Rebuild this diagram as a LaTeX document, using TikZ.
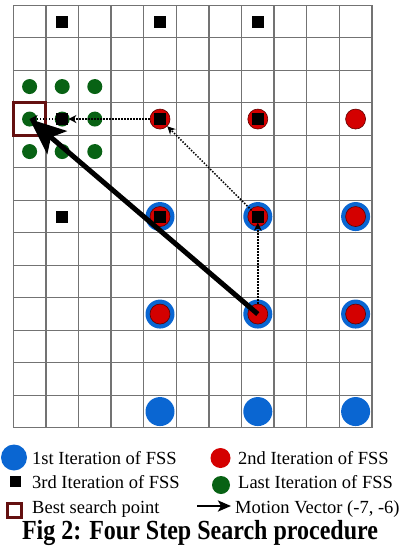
\documentclass[tikz,border=0pt]{standalone}
\usepackage{fontspec}
\setmainfont{Liberation Serif}
\usetikzlibrary{arrows.meta}
\definecolor{fssblue}{RGB}{10,102,210}
\definecolor{fssred}{RGB}{212,0,0}
\definecolor{fssgreen}{RGB}{8,98,20}
\definecolor{fssmaroon}{RGB}{100,16,16}
\definecolor{gridgray}{RGB}{115,115,115}
\tikzset{
  gridline/.style={draw=gridgray, line width=1.3pt},
  bluedot/.style={circle, fill=fssblue, minimum size=29pt, inner sep=0pt},
  reddot/.style={circle, fill=fssred, draw=fssred!45!black, line width=0.6pt, minimum size=20pt, inner sep=0pt},
  blacksq/.style={rectangle, fill=black, minimum size=12pt, inner sep=0pt},
  greendot/.style={circle, fill=fssgreen, minimum size=15pt, inner sep=0pt},
  bestbox/.style={rectangle, draw=fssmaroon, line width=3pt, minimum width=32.6pt, minimum height=32.5pt, inner sep=0pt},
  dotarrow/.style={line width=1.5pt, dash pattern=on 1.5pt off 1.5pt, -{Stealth[length=8pt,width=8pt]}},
  mvarrow/.style={line width=5pt, -{Stealth[length=36pt,width=30pt,inset=8pt]}},
  legarrow/.style={line width=2.8pt, -{Stealth[length=13pt,width=11pt,inset=3pt]}},
  legtext/.style={anchor=base west, inner sep=0pt, font=\fontsize{18.5}{22}\selectfont},
  titletext/.style={anchor=base, inner sep=0pt, font=\bfseries\fontsize{24}{28}\selectfont}
}
\begin{document}
\begin{tikzpicture}[x=1pt,y=-1pt]
\useasboundingbox[fill=white] (0,0) rectangle (406,546);
\begin{scope}[shift={(13.3pt,-5.3pt)}, x=32.6pt, y=-32.5pt]
  % grid
  \foreach \i in {0,...,11} \draw[gridline] (\i,0) -- (\i,13);
  \foreach \j in {0,...,13} \draw[gridline] (0,\j) -- (11,\j);
  % 1st iteration
  \foreach \c in {4,7,10} \foreach \r in {6,9,12}
    \node[bluedot] (b-\c-\r) at (\c+0.5,\r+0.5) {};
  % 2nd iteration
  \foreach \c in {4,7,10} \foreach \r in {3,6,9}
    \node[reddot] (r-\c-\r) at (\c+0.5,\r+0.5) {};
  % 3rd iteration
  \foreach \c in {1,4,7} \foreach \r in {0,3,6}
    \node[blacksq] (s-\c-\r) at (\c+0.5,\r+0.5) {};
  % last iteration
  \foreach \c in {0,1,2} \foreach \r in {2,3,4}
    \node[greendot] (g-\c-\r) at (\c+0.5,\r+0.5) {};
  \node[blacksq] (s-1-3b) at (1.5,3.5) {};
  % best search point
  \node[bestbox] (best) at (0.5,3.5) {};
\end{scope}
% search path
\draw[dotarrow] (r-7-9) -- (s-7-6);
\draw[dotarrow] (s-7-6) -- (r-4-3);
\draw[dotarrow] (r-4-3) -- (s-1-3b);
\draw[dotarrow] (s-1-3b) -- (g-0-3.center);
% motion vector
\draw[mvarrow] (b-7-9.center) -- (best.center);
% legend
\node[bluedot, minimum size=26pt] (lb) at (14,457.5) {};
\node[legtext] (t1) at (32,464.3) {1st Iteration of FSS};
\node[reddot, draw=none, minimum size=20pt] (lr) at (220.5,458) {};
\node[legtext] (t2) at (238,464.3) {2nd Iteration of FSS};
\node[blacksq, minimum size=11pt] (ls) at (15,481.5) {};
\node[legtext] (t3) at (32,488) {3rd Iteration of FSS};
\node[greendot, minimum size=18pt] (lg) at (221,485) {};
\node[legtext] (t4) at (238,488) {Last Iteration of FSS};
\node[bestbox, minimum size=14pt] (lbest) at (14,510.5) {};
\node[legtext] (t5) at (32,513.3) {Best search point};
\coordinate (la1) at (197,506);
\coordinate (la2) at (231,506);
\draw[legarrow] (la1) -- (la2);
\node[legtext] (t6) at (235,513.3) {Motion Vector (-7, -6)};
\node[titletext] (title) at (200,539) {\scalebox{1}[1.15]{Fig 2: Four Step Search procedure}};
\end{tikzpicture}
\end{document}
